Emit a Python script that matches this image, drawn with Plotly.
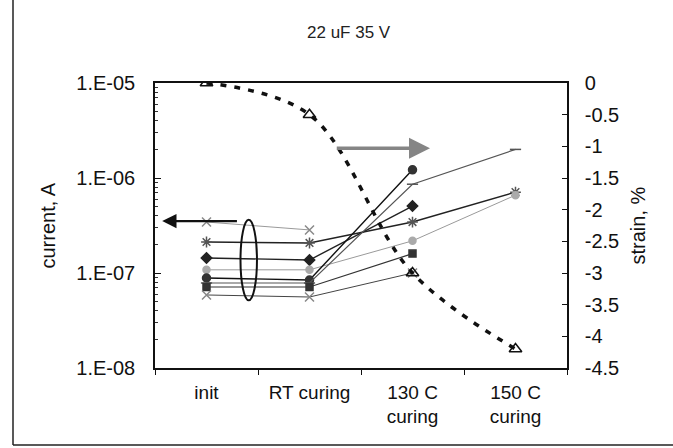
import plotly.graph_objects as go

# ---------------- data ----------------
categories = ["init", "RT curing", "130 C<br>curing", "150 C<br>curing"]

cur_x_top = [3.44e-7, 2.84e-7, None, None]
cur_ast   = [2.12e-7, 2.07e-7, 3.44e-7, 7.1e-7]
cur_dia   = [1.44e-7, 1.37e-7, 5.07e-7, None]
cur_sun   = [1.08e-7, 1.08e-7, 2.18e-7, 6.6e-7]
cur_circ  = [8.86e-8, 8.44e-8, 1.22e-6, None]
cur_dash  = [7.85e-8, 7.85e-8, 8.6e-7, 2.0e-6]
cur_sq    = [7.12e-8, 7.12e-8, 1.6e-7, None]
cur_x_bot = [5.87e-8, 5.59e-8, 1.0e-7, None]

strain = [0.0, -0.5, -3.0, -4.2]

left_tickvals = [1e-8, 1e-7, 1e-6, 1e-5]
left_ticktext = ["1.E-08", "1.E-07", "1.E-06", "1.E-05"]
right_tickvals = [0, -0.5, -1, -1.5, -2, -2.5, -3, -3.5, -4, -4.5]
right_ticktext = ["0", "-0.5", "-1", "-1.5", "-2", "-2.5", "-3", "-3.5", "-4", "-4.5"]

FONT = "Liberation Sans, Arial, sans-serif"

# plot-area geometry in pixels (used only for placing text/frame)
L, R, T, B = 155, 567, 83, 368
PW, PH = R - L, B - T

fig = go.Figure()

series = [
    (cur_x_top, "x-thin-open", "#8a8a8a", "#9a9a9a", 9, 1),
    (cur_ast,   "asterisk-open", "#555555", "#222222", 9, 1.4),
    (cur_dia,   "diamond", "#222222", "#222222", 8, 1.4),
    (cur_sun,   "circle", "#aaaaaa", "#9a9a9a", 7, 1),
    (cur_circ,  "circle", "#333333", "#111111", 8, 1.4),
    (cur_dash,  "line-ew-open", "#555555", "#555555", 8, 1.2),
    (cur_sq,    "square", "#333333", "#333333", 7, 1.2),
    (cur_x_bot, "x-thin-open", "#888888", "#444444", 9, 1),
]
for vals, sym, mcol, lcol, msize, lw in series:
    fig.add_trace(go.Scatter(
        x=categories, y=vals, mode="lines+markers",
        line=dict(color=lcol, width=lw),
        marker=dict(symbol=sym, size=msize, color=mcol,
                    line=dict(color=mcol, width=1.5)),
        showlegend=False, yaxis="y"))

fig.add_trace(go.Scatter(
    x=categories, y=strain, mode="lines+markers",
    line=dict(color="#111111", width=3.5, dash="6px,8px", shape="spline"),
    marker=dict(symbol="triangle-up-open", size=11, color="#111111",
                line=dict(width=1.5)),
    showlegend=False, yaxis="y2"))

# ellipse around initial values
fig.add_shape(type="circle", xref="x", yref="y2", x0=0.33, x1=0.49,
              y0=-3.43, y1=-2.16, line=dict(color="#111111", width=2))

# arrows
fig.add_annotation(x=-0.43, y=-2.18, ax=0.31, ay=-2.18, xref="x", yref="y2",
                   axref="x", ayref="y2", text="", showarrow=True,
                   arrowhead=2, arrowsize=1.3, arrowwidth=2.2, arrowcolor="#111111")
fig.add_annotation(x=2.17, y=-1.03, ax=1.25, ay=-1.03, xref="x", yref="y2",
                   axref="x", ayref="y2", text="", showarrow=True,
                   arrowhead=2, arrowsize=1.2, arrowwidth=3.5, arrowcolor="#858585")

# axis titles & chart title
fig.add_annotation(x=(47 - L) / PW, y=0.5, xref="paper", yref="paper", text="current, A",
                   xanchor="center", yanchor="middle",
                   textangle=-90, showarrow=False, font=dict(size=20, color="#111"))
fig.add_annotation(x=(637 - L) / PW, y=0.5, xref="paper", yref="paper", text="strain, %",
                   xanchor="center", yanchor="middle",
                   textangle=-90, showarrow=False, font=dict(size=20, color="#111"))
fig.add_annotation(x=(349 - L) / PW, y=(B - 33) / PH, xref="paper", yref="paper",
                   text="22 uF 35 V", xanchor="center", yanchor="middle",
                   showarrow=False, font=dict(size=17, color="#222"))

# outer chart frame (left and bottom visible)
fx = (13 - L) / PW
fy = (B - 445) / PH
fig.add_shape(type="line", xref="paper", yref="paper", x0=fx, x1=fx,
              y0=fy, y1=(B + 5) / PH, line=dict(color="#222", width=1.5))
fig.add_shape(type="line", xref="paper", yref="paper", x0=fx, x1=(680 - L) / PW,
              y0=fy, y1=fy, line=dict(color="#222", width=1.5))

fig.update_layout(
    width=673, height=448,
    margin=dict(l=L, r=673 - R, t=T, b=448 - B),
    paper_bgcolor="white", plot_bgcolor="white",
    font=dict(family=FONT, size=20, color="#111"),
    xaxis=dict(type="category", range=[-0.5, 3.5], tickson="boundaries",
               ticks="outside", ticklen=5, tickcolor="#111",
               showline=True, linecolor="#111", linewidth=1.5, mirror=True,
               showgrid=False, tickfont=dict(size=19), ticklabelstandoff=6),
    yaxis=dict(type="log", range=[-8, -5], tickvals=left_tickvals,
               ticktext=left_ticktext, ticks="inside", ticklen=6,
               tickcolor="#111", showline=True, linecolor="#111", linewidth=1.5,
               showgrid=False, ticklabelstandoff=14, tickfont=dict(size=20),
               minor=dict(ticks="inside", ticklen=3, dtick="D1", tickcolor="#333",
                          showgrid=False)),
    yaxis2=dict(overlaying="y", side="right", range=[-4.5, 0],
                tickvals=right_tickvals, ticktext=right_ticktext,
                ticks="inside", ticklen=5, tickcolor="#111",
                showline=True, linecolor="#111", linewidth=1.5,
                showgrid=False, zeroline=False, ticklabelstandoff=12,
                tickfont=dict(size=20)),
)

fig.write_html("out.html")
